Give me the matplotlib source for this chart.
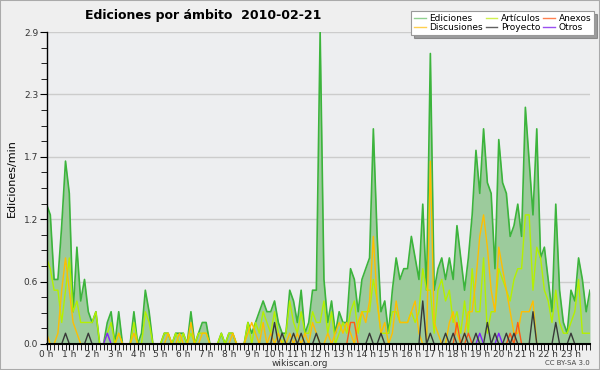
import numpy as np
import matplotlib
matplotlib.use('Agg')
import matplotlib.pyplot as plt
from matplotlib.lines import Line2D
from matplotlib.patches import Rectangle

# edits per minute, one value every 10 minutes (6 per hour)
ediciones = [
    1.3, 1.2, 0.6, 0.6, 1.1, 1.7,
    1.4, 0.3, 0.9, 0.4, 0.6, 0.3,
    0.2, 0.3, 0, 0, 0.2, 0.3,
    0, 0.3, 0, 0, 0, 0.3,
    0, 0.1, 0.5, 0.3, 0, 0,
    0, 0.1, 0.1, 0, 0.1, 0.1,
    0.1, 0, 0.3, 0, 0.1, 0.2,
    0.2, 0, 0, 0, 0.1, 0,
    0.1, 0.1, 0, 0, 0, 0.2,
    0.1, 0.2, 0.3, 0.4, 0.3, 0.3,
    0.4, 0.2, 0.1, 0.1, 0.5, 0.4,
    0.2, 0.5, 0.1, 0.2, 0.5, 0.5,
    2.9, 0.6, 0.2, 0.4, 0.1, 0.3,
    0.2, 0.2, 0.7, 0.6, 0.3, 0.6,
    0.7, 0.8, 2.0, 1.0, 0.3, 0.4,
    0.1, 0.5, 0.8, 0.6, 0.7, 0.7,
    1.0, 0.8, 0.6, 1.3, 0.5, 2.7,
    0.5, 0.7, 0.8, 0.6, 0.8, 0.6,
    1.1, 0.8, 0.5, 0.8, 1.2, 1.8,
    1.4, 2.0, 1.5, 1.4, 0.7, 1.9,
    1.5, 1.4, 1.0, 1.1, 1.3, 1.0,
    2.2, 1.7, 1.2, 2.0, 0.8, 0.9,
    0.6, 0.3, 1.3, 0.5, 0.2, 0.1,
    0.5, 0.4, 0.8, 0.6, 0.3, 0.5,
]
articulos = [
    0.8, 0.7, 0.5, 0.5, 0.2, 0.5,
    0.8, 0.3, 0.4, 0.2, 0.2, 0.2,
    0.2, 0.3, 0, 0, 0.1, 0.2,
    0, 0.1, 0, 0, 0, 0.2,
    0, 0, 0.3, 0.2, 0, 0,
    0, 0.1, 0.1, 0, 0.1, 0,
    0.1, 0, 0.1, 0, 0.1, 0.1,
    0.1, 0, 0, 0, 0.1, 0,
    0.1, 0.1, 0, 0, 0, 0.2,
    0, 0.2, 0.1, 0.3, 0.2, 0.1,
    0.3, 0.1, 0, 0.1, 0.4, 0.2,
    0.1, 0.3, 0.1, 0.1, 0.3, 0.2,
    0.2, 0.4, 0.1, 0.3, 0, 0.1,
    0.2, 0.1, 0.3, 0.4, 0.1, 0.3,
    0.3, 0.3, 0.6, 0.4, 0.1, 0.1,
    0.1, 0.3, 0.3, 0.2, 0.2, 0.2,
    0.3, 0.2, 0.3, 0.7, 0.5, 0.5,
    0.1, 0.5, 0.6, 0.4, 0.5, 0.2,
    0.3, 0.1, 0.4, 0.1, 0.7, 0.3,
    0.3, 0.8, 0.1, 0.3, 0.3, 0.7,
    0.6, 0.5, 0.4, 0.6, 0.7, 0.7,
    1.2, 1.2, 0.5, 0.9, 0.8, 0.5,
    0.4, 0.2, 0.5, 0.2, 0.1, 0.1,
    0.2, 0.3, 0.6, 0.1, 0.1, 0.1,
]
discusiones = [
    0.1, 0, 0, 0.1, 0.5, 0.8,
    0.5, 0.2, 0.1, 0, 0, 0,
    0, 0, 0, 0, 0, 0,
    0, 0.1, 0, 0, 0, 0.1,
    0, 0, 0, 0, 0, 0,
    0, 0, 0.1, 0, 0, 0.1,
    0, 0, 0.2, 0, 0, 0.1,
    0.1, 0, 0, 0, 0, 0,
    0, 0.1, 0, 0, 0, 0.1,
    0.2, 0.1, 0, 0.2, 0, 0.1,
    0, 0.1, 0, 0, 0.1, 0,
    0.1, 0, 0.1, 0, 0.2, 0.1,
    0, 0, 0.1, 0, 0.1, 0.2,
    0.1, 0.2, 0.1, 0, 0.2, 0.3,
    0.2, 0.4, 1.0, 0.4, 0.1, 0.2,
    0, 0.1, 0.4, 0.2, 0.2, 0.2,
    0.3, 0.4, 0.1, 0, 0, 1.7,
    0.2, 0.1, 0, 0, 0.2, 0.3,
    0.1, 0, 0.1, 0.3, 0.3, 0.6,
    1.0, 1.2, 0.9, 0.5, 0.3, 0.9,
    0.7, 0.5, 0.3, 0.1, 0.1, 0.3,
    0.3, 0.3, 0.4, 0, 0, 0,
    0, 0, 0, 0, 0, 0,
    0, 0, 0, 0, 0, 0,
]
proyecto = [0.0] * 144
for k, v in {5: 0.1, 11: 0.1, 60: 0.2, 62: 0.1, 65: 0.1, 67: 0.1, 71: 0.1,
             85: 0.1, 88: 0.1, 99: 0.4, 101: 0.1, 105: 0.1, 107: 0.1, 110: 0.1,
             113: 0.1, 116: 0.2, 118: 0.1, 121: 0.1, 123: 0.1, 128: 0.3,
             134: 0.2, 138: 0.1}.items():
    proyecto[k] = v
anexos = [0.0] * 144
for k, v in {80: 0.2, 81: 0.2, 108: 0.2, 111: 0.1, 122: 0.1, 124: 0.2}.items():
    anexos[k] = v
otros = [0.0] * 144
for k, v in {16: 0.1, 114: 0.1, 119: 0.1}.items():
    otros[k] = v

horas = np.arange(144) / 6.0
hour_labels = ['%d h' % h for h in range(24)]

plt.rcParams['font.family'] = ['DejaVu Sans']
fig = plt.figure(figsize=(6, 3.7), dpi=100, facecolor='#efefef')
ax = fig.add_axes([0.0775, 0.0703, 0.9058, 0.8432], facecolor='#edeef0')

ax.fill_between(horas, ediciones, 0, color='#9ccb9c', lw=0)
ax.plot(horas, ediciones, color='#3cb43c', lw=1.2)
ax.plot(horas, articulos, color='#b4f000', lw=1.0)
ax.plot(horas, discusiones, color='#ffbe00', lw=1.0)
ax.plot(horas, anexos, color='#ff5a14', lw=1.0)
ax.plot(horas, otros, color='#8020ff', lw=1.0)
ax.plot(horas, proyecto, color='#383838', lw=1.0)

ax.set_xlim(0, 143 / 6.0)
ax.set_ylim(0, 2.9)
yt = np.linspace(0, 2.9, 6)
ax.set_yticks(yt)
ax.set_yticklabels(['%.1f' % v for v in yt])
ax.set_yticks(np.linspace(0, 2.9, 21), minor=True)
ax.set_xticks(range(24))
ax.set_xticklabels(hour_labels)
ax.set_xticks(np.arange(0, 144) / 6.0, minor=True)
ax.grid(axis='y', color='#cccccc', lw=1.0)
ax.set_axisbelow(True)
for s in ['top', 'right']:
    ax.spines[s].set_visible(False)
ax.spines['left'].set_linewidth(1.0)
ax.spines['bottom'].set_linewidth(1.5)
ax.tick_params(axis='both', which='both', direction='out', color='black',
               labelsize=6.5, labelcolor='#333333', pad=1)
ax.tick_params(axis='y', which='major', length=5)
ax.tick_params(axis='y', which='minor', length=4)
ax.tick_params(axis='x', which='major', length=4, pad=0)
ax.tick_params(axis='x', which='minor', length=4)

fig.text(0.142, 0.958, 'Ediciones por ámbito  2010-02-21', fontsize=9,
         fontweight='bold', ha='left', va='center')
fig.text(0.02, 0.52, 'Ediciones/min', fontsize=8, rotation=90,
         ha='center', va='center')
fig.text(0.5, 0.018, 'wikiscan.org', fontsize=6.5, color='#333333',
         ha='center', va='center')
fig.text(0.983, 0.018, 'CC BY-SA 3.0', fontsize=5, color='#444444',
         ha='right', va='center')

handles = [Line2D([], [], color='#90d090', lw=1),
           Line2D([], [], color='#ffd050', lw=1),
           Line2D([], [], color='#d0f050', lw=1),
           Line2D([], [], color='#606060', lw=1),
           Line2D([], [], color='#ff8050', lw=1),
           Line2D([], [], color='#9a50f0', lw=1)]
names = ['Ediciones', 'Discusiones', 'Artículos', 'Proyecto', 'Anexos', 'Otros']
leg = fig.legend(handles, names, ncol=3, loc='upper right',
                 bbox_to_anchor=(0.99, 0.97), fontsize=6.5, frameon=True,
                 fancybox=False, shadow=True, handlelength=1.3,
                 handletextpad=0.4, columnspacing=0.3, labelspacing=0.05,
                 borderpad=0.3, borderaxespad=0)
leg.get_frame().set_edgecolor('#999999')
leg.get_frame().set_linewidth(0.8)

fig.patches.append(Rectangle((0, 0), 1, 1, transform=fig.transFigure,
                             fill=False, edgecolor='#aaaaaa', lw=1.5))

fig.savefig('out.png', dpi=100, facecolor=fig.get_facecolor())
